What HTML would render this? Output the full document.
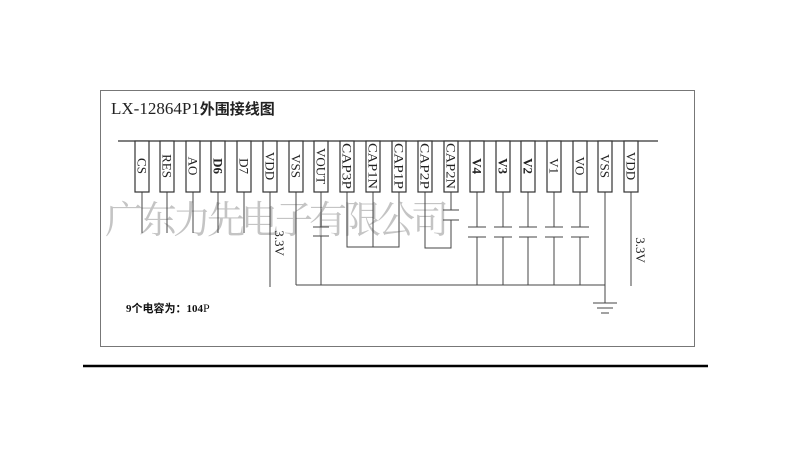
<!DOCTYPE html>
<html><head><meta charset="utf-8"><style>
html,body{margin:0;padding:0;background:#fff;width:800px;height:450px;overflow:hidden}
</style></head><body>
<svg width="800" height="450" xmlns="http://www.w3.org/2000/svg" font-family="'Liberation Serif','Noto Serif CJK SC',serif">
<rect x="0" y="0" width="800" height="450" fill="#fff"/>
<rect x="100.5" y="90.5" width="594" height="256" fill="none" stroke="#777" stroke-width="1"/>
<line x1="83" y1="366" x2="708" y2="366" stroke="#000" stroke-width="2.5"/>
<text x="111" y="114" font-size="17" fill="#222">LX-12864P1<tspan font-family="'Noto Sans CJK SC',sans-serif" font-weight="bold" font-size="15">外围接线图</tspan></text>
<text x="105" y="233" font-size="38" fill="#c4c4c4" font-family="'Noto Serif CJK SC',serif" letter-spacing="-4">广东力先电子有限公司</text>
<line x1="118" y1="141" x2="658" y2="141" stroke="#333" stroke-width="1.2"/>
<g stroke="#444" stroke-width="1" fill="none">
<line x1="142" y1="192" x2="142" y2="233"/><line x1="167" y1="192" x2="167" y2="233"/><line x1="193" y1="192" x2="193" y2="233"/><line x1="218" y1="192" x2="218" y2="233"/><line x1="244" y1="192" x2="244" y2="233"/>
<line x1="270" y1="192" x2="270" y2="287"/>
<line x1="296" y1="192" x2="296" y2="285"/>
<line x1="321" y1="192" x2="321" y2="227"/><line x1="321" y1="236" x2="321" y2="285"/>
<line x1="313" y1="227" x2="329" y2="227"/><line x1="313" y1="236" x2="329" y2="236"/>
<polyline points="347,192 347,247 399,247 399,192"/><line x1="373" y1="192" x2="373" y2="247"/>
<polyline points="425,192 425,248 451,248 451,220"/><line x1="451" y1="192" x2="451" y2="210"/>
<line x1="443" y1="210" x2="459" y2="210"/><line x1="443" y1="220" x2="459" y2="220"/>
<line x1="296" y1="285" x2="605" y2="285"/>
<line x1="605" y1="192" x2="605" y2="303"/>
<line x1="593" y1="303" x2="617" y2="303"/><line x1="597" y1="308" x2="613" y2="308"/><line x1="601" y1="313" x2="609" y2="313"/>
<line x1="631" y1="192" x2="631" y2="286"/>
</g>
<g stroke="#444" stroke-width="1">
<line x1="477" y1="192" x2="477" y2="227"/><line x1="477" y1="237" x2="477" y2="285"/><line x1="468" y1="227" x2="486" y2="227"/><line x1="468" y1="237" x2="486" y2="237"/>
<line x1="503" y1="192" x2="503" y2="227"/><line x1="503" y1="237" x2="503" y2="285"/><line x1="494" y1="227" x2="512" y2="227"/><line x1="494" y1="237" x2="512" y2="237"/>
<line x1="528" y1="192" x2="528" y2="227"/><line x1="528" y1="237" x2="528" y2="285"/><line x1="519" y1="227" x2="537" y2="227"/><line x1="519" y1="237" x2="537" y2="237"/>
<line x1="554" y1="192" x2="554" y2="227"/><line x1="554" y1="237" x2="554" y2="285"/><line x1="545" y1="227" x2="563" y2="227"/><line x1="545" y1="237" x2="563" y2="237"/>
<line x1="580" y1="192" x2="580" y2="227"/><line x1="580" y1="237" x2="580" y2="285"/><line x1="571" y1="227" x2="589" y2="227"/><line x1="571" y1="237" x2="589" y2="237"/>
</g>
<g stroke="#333" stroke-width="1.2" fill="#fff">
<rect x="135" y="141" width="14" height="51"/><rect x="160" y="141" width="14" height="51"/><rect x="186" y="141" width="14" height="51"/><rect x="211" y="141" width="14" height="51"/><rect x="237" y="141" width="14" height="51"/><rect x="263" y="141" width="14" height="51"/><rect x="289" y="141" width="14" height="51"/><rect x="314" y="141" width="14" height="51"/><rect x="340" y="141" width="14" height="51"/><rect x="366" y="141" width="14" height="51"/><rect x="392" y="141" width="14" height="51"/><rect x="418" y="141" width="14" height="51"/><rect x="444" y="141" width="14" height="51"/><rect x="470" y="141" width="14" height="51"/><rect x="496" y="141" width="14" height="51"/><rect x="521" y="141" width="14" height="51"/><rect x="547" y="141" width="14" height="51"/><rect x="573" y="141" width="14" height="51"/><rect x="598" y="141" width="14" height="51"/><rect x="624" y="141" width="14" height="51"/>
</g>
<g font-size="13" fill="#222" text-anchor="middle">
<text transform="translate(137.5,166) rotate(90)">CS</text>
<text transform="translate(162.5,166) rotate(90)">RES</text>
<text transform="translate(188.5,166) rotate(90)">AO</text>
<text transform="translate(213.5,166) rotate(90)" font-weight="bold">D6</text>
<text transform="translate(239.5,166) rotate(90)">D7</text>
<text transform="translate(265.5,166) rotate(90)">VDD</text>
<text transform="translate(291.5,166) rotate(90)">VSS</text>
<text transform="translate(316.5,166) rotate(90)">VOUT</text>
<text transform="translate(342.5,166) rotate(90)" textLength="46" lengthAdjust="spacingAndGlyphs">CAP3P</text>
<text transform="translate(368.5,166) rotate(90)" textLength="46" lengthAdjust="spacingAndGlyphs">CAP1N</text>
<text transform="translate(394.5,166) rotate(90)" textLength="46" lengthAdjust="spacingAndGlyphs">CAP1P</text>
<text transform="translate(420.5,166) rotate(90)" textLength="46" lengthAdjust="spacingAndGlyphs">CAP2P</text>
<text transform="translate(446.5,166) rotate(90)" textLength="46" lengthAdjust="spacingAndGlyphs">CAP2N</text>
<text transform="translate(472.5,166) rotate(90)" font-weight="bold">V4</text>
<text transform="translate(498.5,166) rotate(90)" font-weight="bold">V3</text>
<text transform="translate(523.5,166) rotate(90)" font-weight="bold">V2</text>
<text transform="translate(549.5,166) rotate(90)">V1</text>
<text transform="translate(575.5,166) rotate(90)">VO</text>
<text transform="translate(600.5,166) rotate(90)">VSS</text>
<text transform="translate(626.5,166) rotate(90)">VDD</text>
<text transform="translate(275,243) rotate(90)">3.3V</text>
<text transform="translate(636,250) rotate(90)">3.3V</text>
</g>
<text x="126" y="312" font-size="11" font-weight="bold" fill="#111" font-family="'Liberation Serif','Noto Sans CJK SC',serif">9个电容为：104<tspan font-weight="normal" font-size="12">P</tspan></text>
</svg>
</body></html>
